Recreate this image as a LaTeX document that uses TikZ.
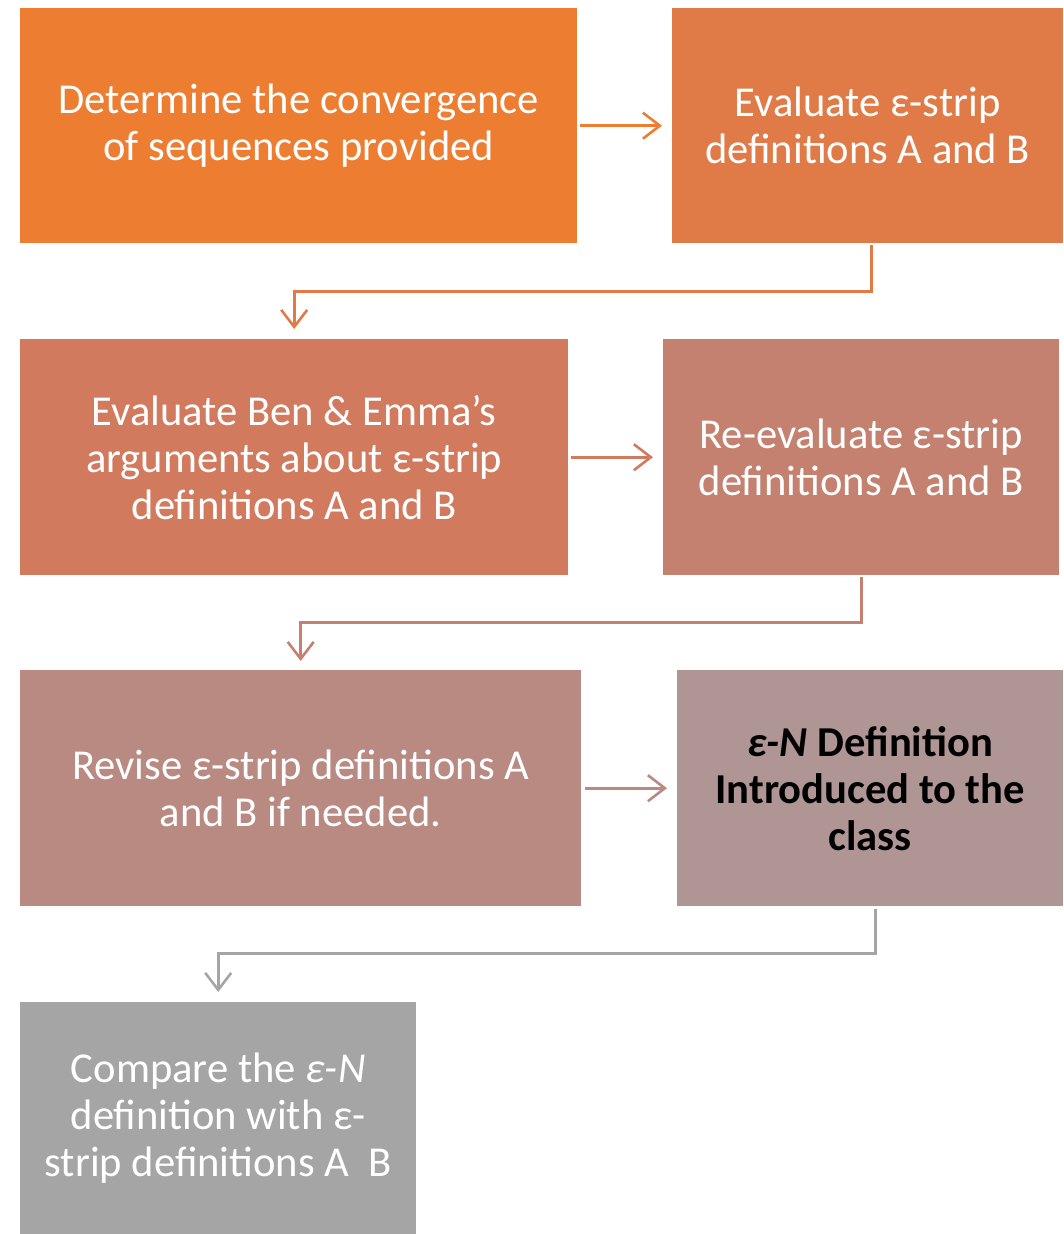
\documentclass[tikz,border=0pt]{standalone}
\usepackage{fontspec}
\setmainfont{Carlito}
\usetikzlibrary{arrows.meta}
\definecolor{cA}{HTML}{ED7D31}
\definecolor{cB}{HTML}{E07B48}
\definecolor{cC}{HTML}{D27A5E}
\definecolor{cD}{HTML}{C58170}
\definecolor{cE}{HTML}{B98A82}
\definecolor{cF}{HTML}{AF9594}
\definecolor{cG}{HTML}{A5A5A5}
\tikzset{
  box/.style={anchor=north west, inner sep=0pt, align=center, text=white,
    font=\fontsize{42.6}{47}\selectfont},
  arr/.style={line width=2.6pt, -{Straight Barb[length=17pt,width=26pt,line width=2.6pt]}}
}
\begin{document}
\begin{tikzpicture}[x=1pt,y=-1pt]
\useasboundingbox (0,0) rectangle (1063,1234);
\node[box, fill=cA, minimum width=557pt, minimum height=235pt] (b1) at (20,8)
  {Determine the convergence\\of sequences provided};
\node[box, fill=cB, minimum width=391pt, minimum height=235pt] (b2) at (672,8)
  {Evaluate ε-strip\\definitions A and B};
\node[box, fill=cC, minimum width=548pt, minimum height=236pt] (b3) at (20,339)
  {Evaluate Ben \& Emma’s\\arguments about ε-strip\\definitions A and B};
\node[box, fill=cD, minimum width=396pt, minimum height=236pt] (b4) at (663,339)
  {Re-evaluate ε-strip\\definitions A and B};
\node[box, fill=cE, minimum width=561pt, minimum height=236pt] (b5) at (20,670)
  {Revise ε-strip definitions A\\and B if needed.};
\node[box, fill=cF, minimum width=386pt, minimum height=236pt, text=black, font=\fontsize{42.6}{47}\selectfont\bfseries] (b6) at (677,670)
  {\textit{ε-N} Definition\\Introduced to the\\class};
\node[box, fill=cG, minimum width=396pt, minimum height=232pt] (b7) at (20,1002)
  {Compare the \textit{ε-N}\\definition with ε-\\strip definitions A~~B};

\draw[arr, cA] ([xshift=3pt]b1.east) -- ([xshift=-10pt]b2.west);
\draw[arr, cB] ([xshift=3.5pt,yshift=-2pt]b2.south) -- ++(0,46) -| ([yshift=10pt]b3.north);
\draw[arr, cC] ([xshift=3pt]b3.east) -- ([xshift=-10pt]b4.west);
\draw[arr, cD] ([yshift=-2pt]b4.south) -- ++(0,45) -| ([yshift=9pt]b5.north);
\draw[arr, cE] ([xshift=4pt]b5.east) -- ([xshift=-10pt]b6.west);
\draw[arr, cG] ([xshift=5pt,yshift=-3pt]b6.south) -- ++(0,44) -| ([yshift=10pt]b7.north);
\end{tikzpicture}
\end{document}
